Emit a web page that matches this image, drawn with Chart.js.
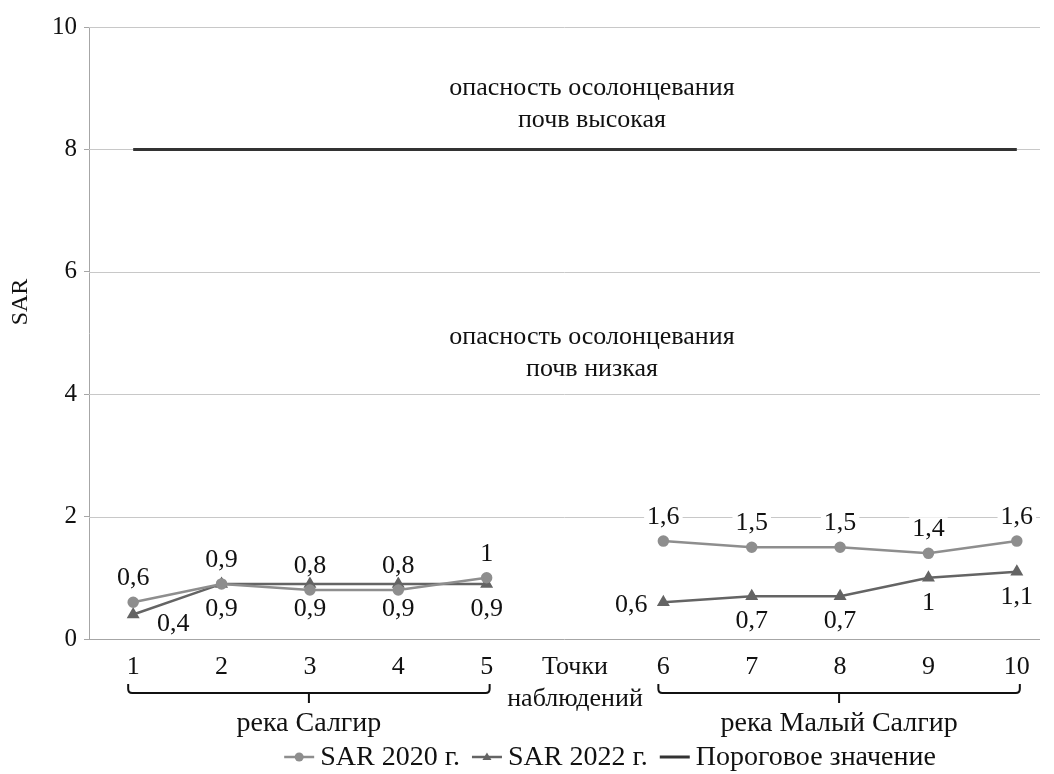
<!DOCTYPE html>
<html>
<head>
<meta charset="utf-8">
<script src="https://cdn.jsdelivr.net/npm/chart.js@4.4.1/dist/chart.umd.min.js"></script>
<style>
  html, body { margin: 0; padding: 0; background: #fff; overflow: hidden; }
  canvas { display: block; }
</style>
</head>
<body>
<!-- the plot area runs a little past the right edge of the window, as in the original -->
<canvas id="sarChart" width="1061" height="774"></canvas>
<script>
// observation points (the empty slot between 5 and 6 carries the axis caption)
const points = ["1", "2", "3", "4", "5", ["Точки", "наблюдений"], "6", "7", "8", "9", "10"];
const sar2020 = [0.6, 0.9, 0.8, 0.8, 1.0, null, 1.6, 1.5, 1.5, 1.4, 1.6];
const sar2022 = [0.4, 0.9, 0.9, 0.9, 0.9, null, 0.6, 0.7, 0.7, 1.0, 1.1];
const threshold = [8, 8, 8, 8, 8, 8, 8, 8, 8, 8, 8];
const seriesNames = ["SAR 2020 г.", "SAR 2022 г.", "Пороговое значение"];
const rivers = ["река Салгир", "река Малый Салгир"];
const riverRanges = [[0, 4], [6, 10]];
const zoneHigh = ["опасность осолонцевания", "почв высокая"];
const zoneLow = ["опасность осолонцевания", "почв низкая"];

const SERIF = "'Liberation Serif', 'Times New Roman', serif";
const c2020 = "#8e8e8e";
const c2022 = "#646464";
const cLimit = "#333333";
const gridColor = "#c8c8c8";
const gridRight = 1040;

function fmt(v) {
    return String(v).replace(".", ",");
}

// where each value label goes relative to its point
function labelOffset(ds, i) {
    if (ds === 0) return [0, -24];
    if (i === 0) return [40, 10];
    if (i === 6) return [-32, 3];
    return [0, 25];
}

const extras = {
    id: "extras",
    beforeDatasetsDraw(chart) {
        const ctx = chart.ctx;
        const y = chart.scales.y;
        const left = chart.chartArea.left;
        ctx.save();
        y.ticks.forEach(function (t) {
            const py = Math.round(y.getPixelForValue(t.value)) + 0.5;
            ctx.strokeStyle = t.value === 0 ? "#a6a6a6" : gridColor;
            ctx.lineWidth = 1;
            ctx.beginPath();
            ctx.moveTo(left, py);
            ctx.lineTo(gridRight, py);
            ctx.stroke();
        });
        ctx.restore();
    },
    afterDatasetsDraw(chart) {
        const ctx = chart.ctx;
        const x = chart.scales.x;
        const y = chart.scales.y;
        ctx.save();

        // value labels
        ctx.font = "26px " + SERIF;
        ctx.textAlign = "center";
        ctx.textBaseline = "middle";
        [0, 1].forEach(function (ds) {
            const meta = chart.getDatasetMeta(ds);
            chart.data.datasets[ds].data.forEach(function (v, i) {
                if (v === null) return;
                const el = meta.data[i];
                const off = labelOffset(ds, i);
                const txt = fmt(v);
                const w = ctx.measureText(txt).width;
                const lx = el.x + off[0], ly = el.y + off[1];
                ctx.fillStyle = "#fff";
                ctx.fillRect(lx - w / 2 - 3, ly - 12, w + 6, 23);
                ctx.fillStyle = "#111";
                ctx.fillText(txt, lx, ly);
            });
        });

        // zone captions
        const cx = 592;
        ctx.font = "26px " + SERIF;
        ctx.fillStyle = "#111";
        ctx.fillText(zoneHigh[0], cx, y.getPixelForValue(9.0));
        ctx.fillText(zoneHigh[1], cx, y.getPixelForValue(8.48));
        ctx.fillText(zoneLow[0], cx, y.getPixelForValue(4.93));
        ctx.fillText(zoneLow[1], cx, y.getPixelForValue(4.41));

        // braces under the river groups
        ctx.strokeStyle = "#111";
        ctx.lineWidth = 2;
        riverRanges.forEach(function (r, k) {
            const x1 = x.getPixelForValue(r[0]) - 5;
            const x2 = x.getPixelForValue(r[1]) + 3;
            const mid = (x1 + x2) / 2;
            ctx.beginPath();
            ctx.moveTo(x1, 684);
            ctx.lineTo(x1, 689);
            ctx.quadraticCurveTo(x1, 693, x1 + 4, 693);
            ctx.lineTo(x2 - 4, 693);
            ctx.quadraticCurveTo(x2, 693, x2, 689);
            ctx.lineTo(x2, 684);
            ctx.moveTo(mid, 693);
            ctx.lineTo(mid, 703);
            ctx.stroke();
            ctx.font = "28px " + SERIF;
            ctx.fillText(rivers[k], mid, 724);
        });

        // y axis title
        ctx.save();
        ctx.translate(21, 302);
        ctx.rotate(-Math.PI / 2);
        ctx.font = "24px " + SERIF;
        ctx.fillText("SAR", 0, 0);
        ctx.restore();

        // legend
        ctx.font = "28px " + SERIF;
        ctx.textAlign = "left";
        const colors = [c2020, c2022, cLimit];
        const sample = 30, gap = 6, space = 12;
        let total = 0;
        seriesNames.forEach(function (n) { total += sample + gap + ctx.measureText(n).width; });
        total += space * (seriesNames.length - 1);
        let lx = 610 - total / 2;
        const ly = 757;
        seriesNames.forEach(function (n, k) {
            ctx.strokeStyle = colors[k];
            ctx.fillStyle = colors[k];
            ctx.lineWidth = k === 2 ? 3 : 2.5;
            ctx.beginPath();
            ctx.moveTo(lx, ly);
            ctx.lineTo(lx + sample, ly);
            ctx.stroke();
            const mx = lx + sample / 2;
            if (k === 0) {
                ctx.beginPath();
                ctx.arc(mx, ly, 4.5, 0, Math.PI * 2);
                ctx.fill();
            } else if (k === 1) {
                ctx.beginPath();
                ctx.moveTo(mx, ly - 4.5);
                ctx.lineTo(mx + 4.5, ly + 3);
                ctx.lineTo(mx - 4.5, ly + 3);
                ctx.closePath();
                ctx.fill();
            }
            ctx.fillStyle = "#111";
            ctx.fillText(n, lx + sample + gap, ly + 1);
            lx += sample + gap + ctx.measureText(n).width + space;
        });
        ctx.restore();
    }
};

new Chart("sarChart", {
    type: "line",
    data: {
        labels: points,
        datasets: [{
            label: seriesNames[0],
            data: sar2020,
            borderColor: c2020,
            backgroundColor: c2020,
            borderWidth: 2.5,
            pointStyle: "circle",
            pointRadius: 4.5,
            spanGaps: false
        }, {
            label: seriesNames[1],
            data: sar2022,
            borderColor: c2022,
            backgroundColor: c2022,
            borderWidth: 2.5,
            pointStyle: "triangle",
            pointRadius: 5,
            spanGaps: false
        }, {
            label: seriesNames[2],
            data: threshold,
            borderColor: cLimit,
            borderWidth: 3,
            pointRadius: 0
        }]
    },
    options: {
        responsive: false,
        animation: false,
        layout: { autoPadding: false, padding: { left: 0, top: 27, right: 0, bottom: 0 } },
        plugins: {
            legend: { display: false },
            title: { display: false },
            tooltip: { enabled: false }
        },
        scales: {
            x: {
                offset: true,
                grid: { display: false },
                border: { display: false },
                ticks: {
                    autoSkip: false,
                    maxRotation: 0,
                    color: "#111",
                    padding: 4,
                    font: { family: SERIF, size: 26, lineHeight: 1.23 }
                },
                afterFit: function (s) {
                    s.height = 135;
                    s.paddingLeft = 0;
                    s.paddingRight = 0;
                }
            },
            y: {
                min: 0,
                max: 10,
                ticks: {
                    stepSize: 2,
                    color: "#111",
                    padding: 7,
                    font: { family: SERIF, size: 25 }
                },
                grid: { drawOnChartArea: false, tickLength: 5, color: "#a6a6a6" },
                border: { color: "#a6a6a6" },
                afterFit: function (s) { s.width = 89; }
            }
        }
    },
    plugins: [extras]
});
</script>
</body>
</html>
